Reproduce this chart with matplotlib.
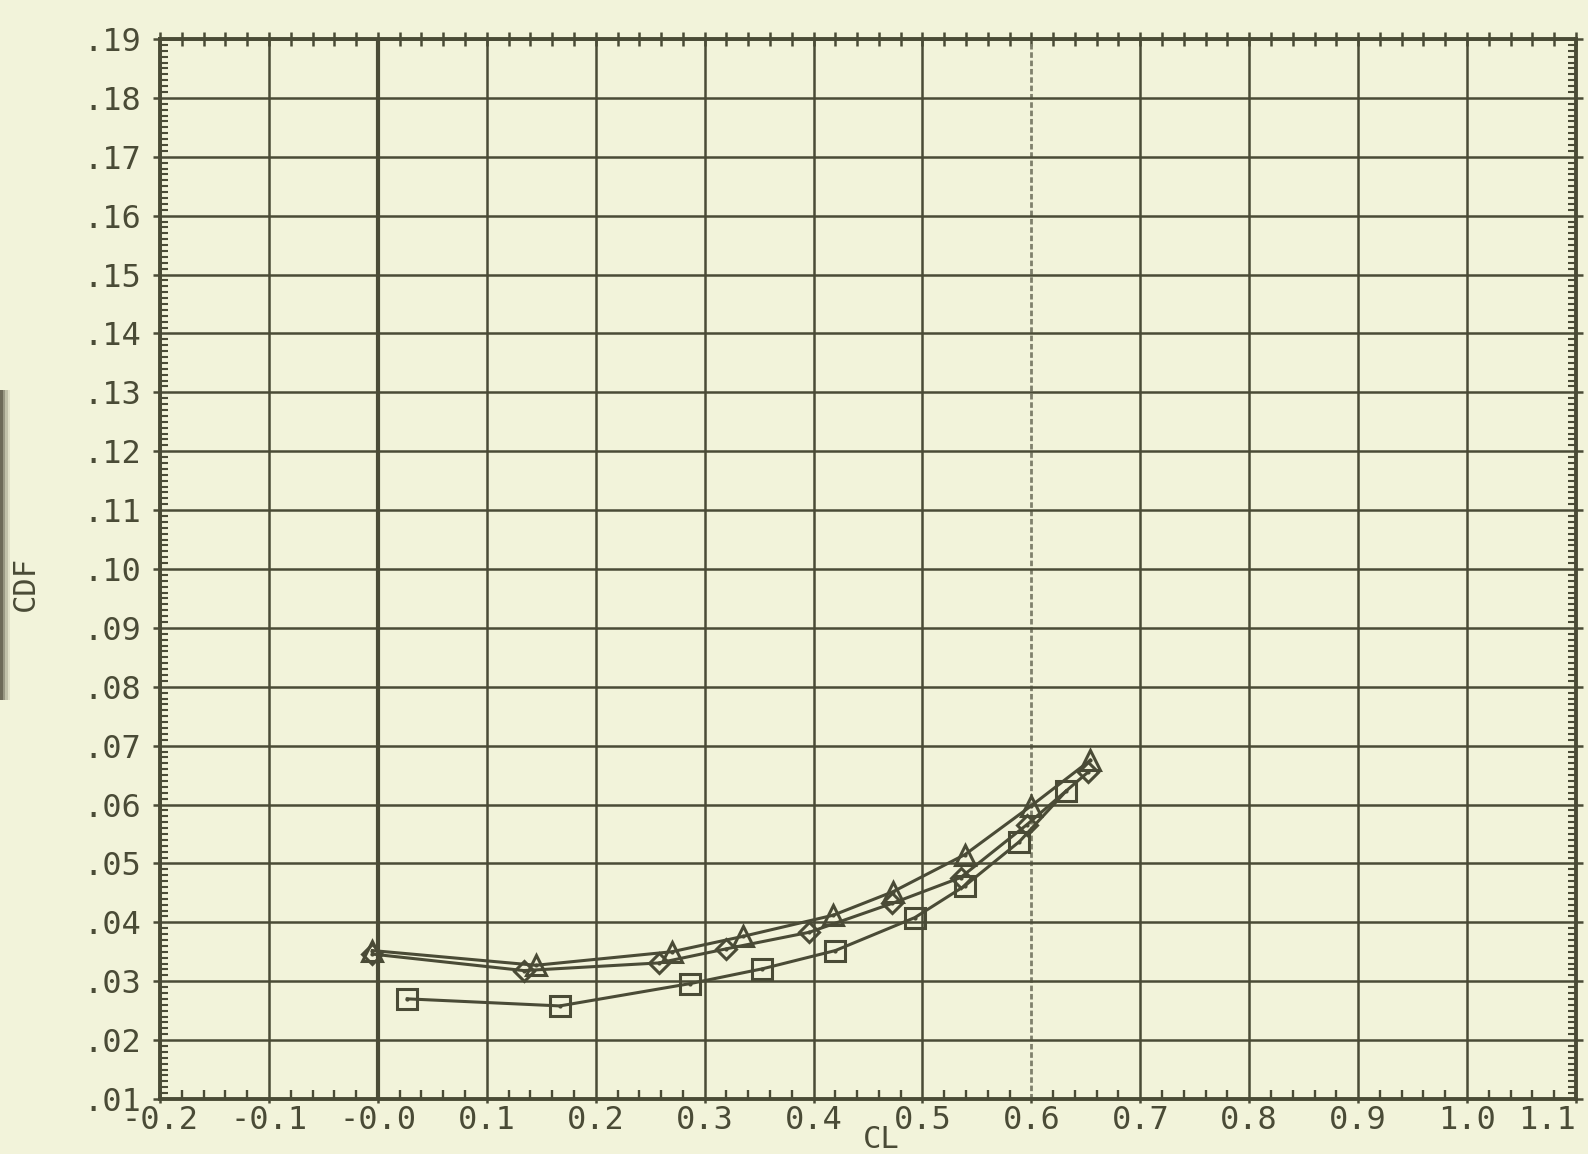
import numpy as np
import matplotlib
matplotlib.use('Agg')
import matplotlib.pyplot as plt
from matplotlib.ticker import MultipleLocator
from matplotlib.patches import Rectangle

# datos (CL vs CDF)
tri_cl = [-0.005, 0.145, 0.270, 0.335, 0.418, 0.473, 0.539, 0.600, 0.654]
tri_cdf = [0.0352, 0.0327, 0.0350, 0.0376, 0.0412, 0.0452, 0.0515, 0.0598, 0.0675]

dia_cl = [-0.005, 0.134, 0.258, 0.320, 0.396, 0.472, 0.535, 0.596, 0.652]
dia_cdf = [0.0346, 0.0318, 0.0331, 0.0355, 0.0383, 0.0432, 0.0476, 0.0566, 0.0655]

sq_cl = [0.027, 0.167, 0.287, 0.353, 0.420, 0.493, 0.539, 0.589, 0.632]
sq_cdf = [0.0270, 0.0258, 0.0296, 0.0321, 0.0352, 0.0408, 0.0462, 0.0537, 0.0623]

x_ticks = [-0.2, -0.1, 0.0, 0.1, 0.2, 0.3, 0.4, 0.5, 0.6, 0.7, 0.8, 0.9, 1.0, 1.1]
x_labels = ['-0.2', '-0.1', '-0.0', '0.1', '0.2', '0.3', '0.4', '0.5', '0.6',
            '0.7', '0.8', '0.9', '1.0', '1.1']
y_ticks = [0.01, 0.02, 0.03, 0.04, 0.05, 0.06, 0.07, 0.08, 0.09, 0.10,
           0.11, 0.12, 0.13, 0.14, 0.15, 0.16, 0.17, 0.18, 0.19]
y_labels = ['.01', '.02', '.03', '.04', '.05', '.06', '.07', '.08', '.09', '.10',
            '.11', '.12', '.13', '.14', '.15', '.16', '.17', '.18', '.19']

bg = '#f2f3da'
ink = '#4a4b36'
plt.rcParams['font.family'] = 'DejaVu Sans Mono'

fig = plt.figure(figsize=(15.88, 11.54), dpi=100, facecolor=bg)
ax = fig.add_axes([0.1008, 0.0477, 0.8916, 0.9185])
ax.set_facecolor(bg)
ax.set_xlim(-0.2, 1.1)
ax.set_ylim(0.01, 0.19)

# cuadricula
ax.set_xticks(x_ticks)
ax.set_xticklabels(x_labels)
ax.set_yticks(y_ticks)
ax.set_yticklabels(y_labels)
ax.grid(True, which='major', color=ink, lw=1.8)
for t, gl in zip(x_ticks, ax.get_xgridlines()):
    if abs(t - 0.6) < 1e-9:
        gl.set_color('#7f806c')
        gl.set_linewidth(2.0)
        gl.set_linestyle((0, (2, 1)))
ax.axvline(0.0, color=ink, lw=3.0, zorder=1.5)
ax.set_axisbelow(True)

for s in ax.spines.values():
    s.set_color(ink)
    s.set_linewidth(2.8)

# ticks
ax.xaxis.set_minor_locator(MultipleLocator(0.02))
ax.yaxis.set_minor_locator(MultipleLocator(0.001))
ax.tick_params(axis='x', which='major', direction='out', length=3, width=1.8,
               color=ink, labelcolor=ink, labelsize=23, pad=1, top=False)
ax.tick_params(axis='x', which='minor', direction='in', length=6.5, width=1.7,
               color=ink, top=False)
ax.tick_params(axis='y', which='major', direction='out', length=5, width=1.8,
               color=ink, labelcolor=ink, labelsize=23, pad=9, right=True)
ax.tick_params(axis='y', which='minor', direction='in', length=5.5, width=1.5,
               color=ink, right=True)
lbls = ax.get_xticklabels()
lbls[-1].set_horizontalalignment('right')
lbls[-1].set_x(1.112)

top = ax.secondary_xaxis('top')
top.set_xticks(x_ticks)
top.xaxis.set_minor_locator(MultipleLocator(0.02))
top.tick_params(which='both', direction='inout', length=10, width=1.8,
                color=ink, labeltop=False)
top.spines['top'].set_visible(False)

# series
kw = dict(color=ink, lw=2.2, mfc='none', mec=ink, mew=2.2, zorder=3)
ax.plot(tri_cl, tri_cdf, marker='^', ms=15, **kw)
ax.plot(dia_cl, dia_cdf, marker='D', ms=10, **kw)
ax.plot(sq_cl, sq_cdf, marker='s', ms=14, **kw)
for xs, ys in [(tri_cl, tri_cdf), (dia_cl, dia_cdf), (sq_cl, sq_cdf)]:
    ax.plot(xs, ys, ls='none', marker='.', ms=4, color=ink, zorder=4)

fig.text(25 / 1588, 1 - 583 / 1154, 'CDF', rotation=90, ha='center', va='center',
         fontsize=22, color=ink)
fig.text(881 / 1588, 1 - 1139 / 1154, 'CL', ha='center', va='center',
         fontsize=22, color=ink)

# sombra del escaneo en el borde izquierdo
for i, a in enumerate([0.75, 0.5, 0.3, 0.15]):
    fig.patches.append(Rectangle((0, 1 - 700 / 1154), (i + 1) * 2.5 / 1588, 310 / 1154,
                                 transform=fig.transFigure, color='#3a3628',
                                 alpha=a * 0.6, lw=0, zorder=0))

fig.savefig('out.png', dpi=100, facecolor=bg)
